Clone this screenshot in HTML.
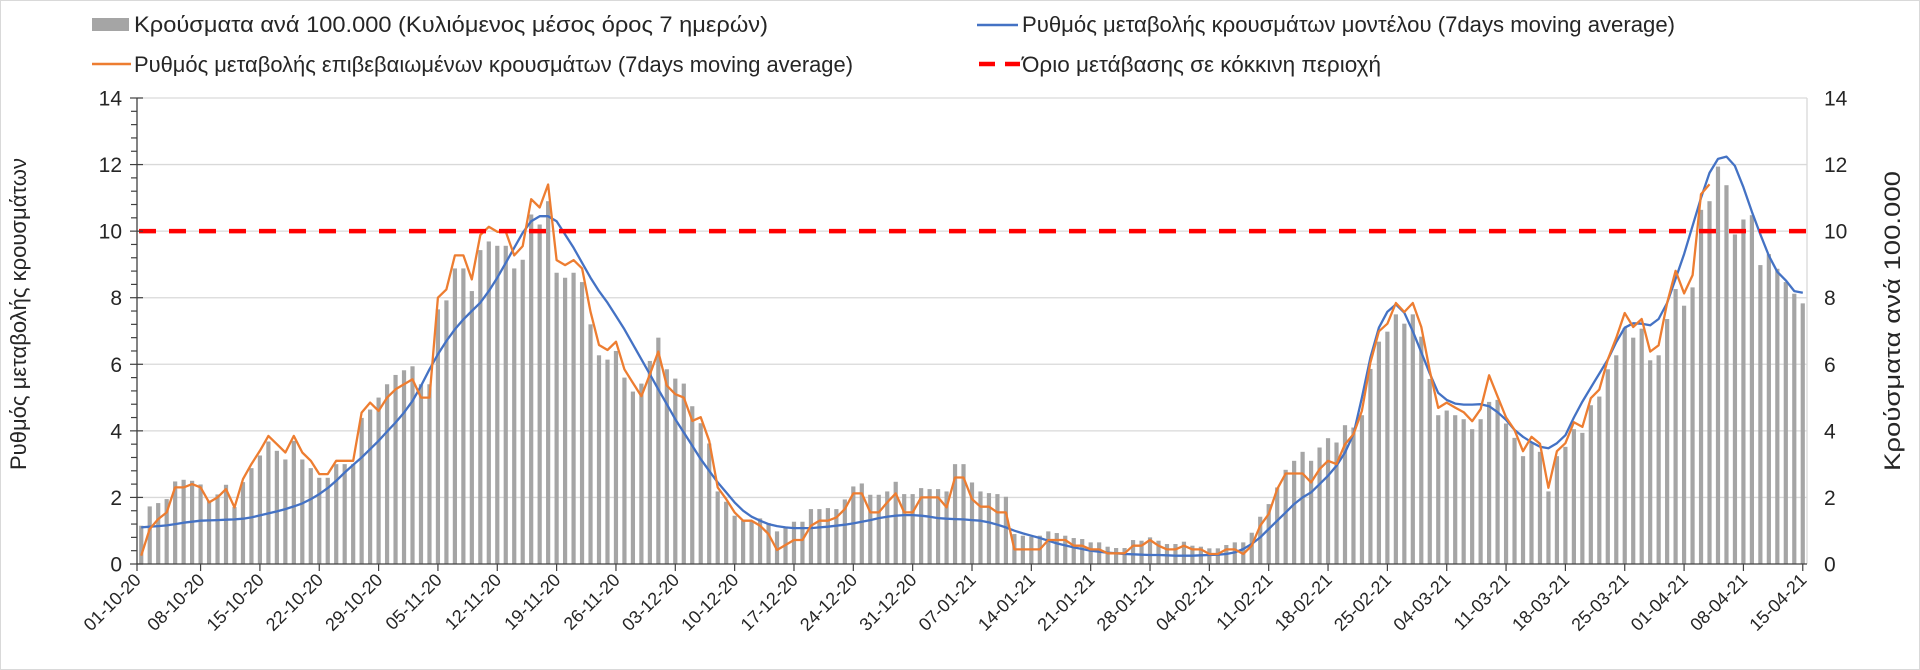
<!DOCTYPE html>
<html><head><meta charset="utf-8">
<style>
html,body{margin:0;padding:0;background:#fff;}
svg{display:block;font-family:"Liberation Sans","DejaVu Sans",sans-serif;}
</style></head>
<body>
<svg id="chart" width="1920" height="670" viewBox="0 0 1920 670" xmlns="http://www.w3.org/2000/svg">
<rect x="0.5" y="0.5" width="1919" height="669" fill="#fff" stroke="#d9d9d9"/>
<g>
 <g>
  <rect x="92" y="18" width="37" height="13" fill="#a5a5a5"/>
  <text x="134" y="32" font-size="22" fill="#262626" textLength="634" lengthAdjust="spacingAndGlyphs">Κρούσματα ανά 100.000 (Κυλιόμενος μέσος όρος 7 ημερών)</text>
 </g>
 <g>
  <line x1="92" y1="64" x2="131" y2="64" stroke="#ed7d31" stroke-width="2.5"/>
  <text x="134" y="72" font-size="22" fill="#262626" textLength="719" lengthAdjust="spacingAndGlyphs">Ρυθμός μεταβολής επιβεβαιωμένων κρουσμάτων (7days moving average)</text>
 </g>
 <g>
  <line x1="977" y1="25" x2="1018" y2="25" stroke="#4472c4" stroke-width="2.5"/>
  <text x="1022" y="32" font-size="22" fill="#262626" textLength="653" lengthAdjust="spacingAndGlyphs">Ρυθμός μεταβολής κρουσμάτων μοντέλου (7days moving average)</text>
 </g>
 <g>
  <line x1="979" y1="64" x2="1020" y2="64" stroke="#ff0000" stroke-width="4.5" stroke-dasharray="16,10"/>
  <text x="1022" y="72" font-size="22" fill="#262626" textLength="359" lengthAdjust="spacingAndGlyphs">Όριο μετάβασης σε κόκκινη περιοχή</text>
 </g>
</g>
<text transform="translate(26,314) rotate(-90)" text-anchor="middle" font-size="22" fill="#262626" textLength="312" lengthAdjust="spacingAndGlyphs">Ρυθμός μεταβολής κρουσμάτων</text>
<text transform="translate(1900,321) rotate(-90)" text-anchor="middle" font-size="22" fill="#262626" textLength="300" lengthAdjust="spacingAndGlyphs">Κρούσματα ανά 100.000</text>
<g id="grid"></g>
<g id="bars"></g>
<g id="lines"></g>
<g id="axes"></g>
</svg>
<script>
const dateStart = [2020, 10, 1];
const nDays = 197;
const yTicks = [0,2,4,6,8,10,12,14];
const threshold = 10;
const cases = [1.15,1.73,1.83,1.95,2.48,2.53,2.5,2.39,1.9,2.09,
2.38,1.71,2.46,2.88,3.26,3.68,3.4,3.14,3.7,3.14,
2.88,2.59,2.59,3.0,3.0,3.0,4.39,4.64,5.0,5.4,
5.68,5.82,5.94,5.4,5.4,7.65,7.92,8.88,8.88,8.2,
9.43,9.69,9.56,9.56,8.88,9.14,10.5,10.2,10.9,8.75,
8.6,8.75,8.47,7.2,6.27,6.14,6.4,5.6,5.18,5.42,
6.1,6.8,5.85,5.57,5.42,4.74,4.23,3.62,2.18,1.87,
1.45,1.3,1.3,1.37,1.23,0.98,1.08,1.27,1.27,1.65,
1.65,1.68,1.65,1.94,2.33,2.42,2.08,2.08,2.18,2.47,
2.1,2.1,2.28,2.25,2.25,2.18,3.0,3.0,2.45,2.18,
2.13,2.1,2.02,0.9,0.85,0.82,0.85,0.98,0.93,0.85,
0.78,0.75,0.65,0.65,0.52,0.48,0.48,0.72,0.7,0.8,
0.7,0.6,0.6,0.67,0.55,0.52,0.47,0.47,0.57,0.65,
0.65,0.94,1.42,1.8,2.3,2.83,3.1,3.37,3.1,3.5,
3.78,3.65,4.17,4.1,4.47,5.86,6.68,6.98,7.5,7.22,
7.5,6.83,5.56,4.47,4.61,4.47,4.35,4.05,4.35,4.87,
4.93,4.22,3.79,3.24,3.66,3.37,2.18,3.24,3.52,4.05,
3.94,4.77,5.03,5.85,6.27,7.09,6.8,7.07,6.12,6.27,
7.36,8.26,7.76,8.31,10.64,10.9,11.94,11.38,9.9,10.35,
10.48,8.98,9.31,8.87,8.47,8.12,7.83];
const confirmedRate = [0.25,1.05,1.35,1.55,2.3,2.3,2.4,2.3,1.85,2.0,
2.25,1.7,2.55,3.0,3.4,3.85,3.6,3.35,3.85,3.35,
3.1,2.7,2.7,3.1,3.1,3.1,4.55,4.85,4.6,5.0,
5.25,5.4,5.55,5.0,5.0,8.0,8.25,9.27,9.27,8.55,
9.88,10.13,9.98,9.98,9.27,9.55,10.96,10.71,11.4,9.13,
8.98,9.13,8.88,7.58,6.58,6.43,6.68,5.85,5.44,5.04,
5.7,6.38,5.36,5.1,5.0,4.3,4.41,3.7,2.3,1.95,
1.55,1.3,1.3,1.15,0.9,0.42,0.57,0.72,0.72,1.15,
1.3,1.3,1.4,1.65,2.12,2.12,1.55,1.55,1.85,2.12,
1.55,1.55,2.0,2.0,2.0,1.7,2.6,2.6,1.95,1.72,
1.72,1.55,1.55,0.44,0.44,0.44,0.44,0.72,0.72,0.72,
0.55,0.55,0.44,0.44,0.32,0.32,0.32,0.55,0.55,0.72,
0.55,0.44,0.44,0.55,0.44,0.44,0.3,0.3,0.44,0.44,
0.3,0.55,1.15,1.5,2.25,2.72,2.72,2.72,2.45,2.85,
3.1,3.0,3.6,3.9,4.6,6.05,6.99,7.22,7.84,7.57,
7.84,7.12,5.8,4.69,4.85,4.7,4.56,4.29,4.65,5.67,
5.03,4.4,4.03,3.39,3.82,3.61,2.29,3.39,3.63,4.26,
4.12,4.98,5.24,6.14,6.8,7.54,7.12,7.36,6.38,6.57,
7.84,8.81,8.13,8.68,11.11,11.41];
const modelRate = [1.1,1.12,1.14,1.16,1.2,1.24,1.27,1.3,1.31,1.32,
1.33,1.34,1.36,1.4,1.46,1.52,1.58,1.65,1.73,1.82,
1.95,2.1,2.28,2.5,2.75,2.98,3.2,3.45,3.7,3.98,
4.25,4.55,4.9,5.35,5.85,6.3,6.7,7.05,7.35,7.6,
7.85,8.2,8.6,9.05,9.5,9.95,10.3,10.45,10.45,10.3,
9.9,9.5,9.05,8.6,8.2,7.85,7.45,7.05,6.6,6.15,
5.7,5.25,4.8,4.35,3.95,3.55,3.15,2.8,2.45,2.15,
1.85,1.6,1.42,1.3,1.2,1.14,1.1,1.08,1.08,1.08,
1.1,1.12,1.15,1.18,1.22,1.27,1.32,1.38,1.42,1.45,
1.47,1.47,1.45,1.42,1.38,1.36,1.35,1.34,1.32,1.3,
1.25,1.18,1.1,1.0,0.92,0.85,0.78,0.7,0.62,0.56,
0.5,0.45,0.4,0.37,0.34,0.32,0.3,0.29,0.28,0.27,
0.27,0.26,0.25,0.25,0.25,0.26,0.27,0.28,0.3,0.35,
0.45,0.6,0.8,1.05,1.3,1.55,1.8,2.0,2.15,2.4,
2.65,2.95,3.35,3.9,5.0,6.2,7.1,7.58,7.8,7.55,
6.99,6.36,5.72,5.14,4.93,4.82,4.79,4.79,4.8,4.74,
4.56,4.33,4.03,3.82,3.66,3.52,3.48,3.63,3.87,4.4,
4.88,5.3,5.72,6.14,6.67,7.1,7.23,7.22,7.17,7.36,
7.84,8.57,9.31,10.16,11.0,11.75,12.17,12.24,11.96,11.32,
10.58,9.9,9.26,8.78,8.52,8.2,8.15];

const NS = "http://www.w3.org/2000/svg";
const X0 = 137, X1 = 1807, Y0 = 564, YTOP = 98, YMAX = 14;
const dw = (X1 - X0) / nDays;
function xDay(d){ return X0 + dw * (d + 0.5); }
function yVal(v){ return Y0 - (Y0 - YTOP) * v / YMAX; }
function mk(tag, attrs, parent){
  const e = document.createElementNS(NS, tag);
  for (const k in attrs) e.setAttribute(k, attrs[k]);
  parent.appendChild(e);
  return e;
}
function pad(n){ return (n < 10 ? "0" : "") + n; }
function dateLabel(d){
  const dt = new Date(dateStart[0], dateStart[1]-1, dateStart[2] + d);
  return pad(dt.getDate()) + "-" + pad(dt.getMonth()+1) + "-" + String(dt.getFullYear()).slice(2);
}
const grid = document.getElementById("grid");
const bars = document.getElementById("bars");
const lines = document.getElementById("lines");
const axes = document.getElementById("axes");

yTicks.forEach(t => {
  if (t === 0) return;
  const g = mk("line", {x1: X0, x2: X1, y1: yVal(t), y2: yVal(t), stroke: "#d9d9d9", "stroke-width": 1.3}, grid);
  
  
});

cases.forEach((v, d) => {
  const r = mk("rect", {x: xDay(d) - 2.1, y: yVal(v), width: 4.2, height: Y0 - yVal(v), fill: "#a5a5a5"}, bars);
  
  
});

function pathFor(arr){
  return arr.map((v, d) => (d ? "L" : "M") + xDay(d).toFixed(1) + "," + yVal(v).toFixed(1)).join(" ");
}
const blue = mk("path", {d: pathFor(modelRate), fill: "none", stroke: "#4472c4", "stroke-width": 2.3, "stroke-linejoin": "round"}, lines);


const orange = mk("path", {d: pathFor(confirmedRate), fill: "none", stroke: "#ed7d31", "stroke-width": 2.3, "stroke-linejoin": "round"}, lines);


const red = mk("line", {x1: X0 + 2, x2: X1, y1: yVal(threshold), y2: yVal(threshold), stroke: "#ff0000", "stroke-width": 4.5, "stroke-dasharray": "17,13"}, lines);



const la = mk("line", {x1: X0, x2: X0, y1: YTOP, y2: Y0, stroke: "#404040", "stroke-width": 1.3}, axes);


for (let i = 0; i <= 35; i++) {
  const v = i * 0.4;
  const major = Math.abs(v - Math.round(v/2)*2) < 1e-6;
  const tk = mk("line", {x1: major ? X0 - 7 : X0 - 6, x2: major ? X0 + 6 : X0, y1: yVal(v), y2: yVal(v), stroke: "#404040", "stroke-width": 1.2}, axes);
  
  
}
const ra = mk("line", {x1: X1, x2: X1, y1: YTOP, y2: Y0, stroke: "#d9d9d9", "stroke-width": 1.3}, axes);


yTicks.forEach(t => {
  const l = mk("text", {x: 122, y: yVal(t) + 7.5, "text-anchor": "end", "font-size": 21, fill: "#262626"}, axes);
  l.textContent = t;
  
  
  const r = mk("text", {x: 1824, y: yVal(t) + 7.5, "text-anchor": "start", "font-size": 21, fill: "#262626"}, axes);
  r.textContent = t;
  
  
});
const xa = mk("line", {x1: X0, x2: X1, y1: Y0, y2: Y0, stroke: "#404040", "stroke-width": 1.3}, axes);


for (let d = 0; d < nDays; d += 7) {
  const tx = (d === 0) ? X0 : xDay(d);
  const tk = mk("line", {x1: tx, x2: tx, y1: Y0, y2: Y0 + 7, stroke: "#404040", "stroke-width": 1.2}, axes);
  
  
  const lb = mk("text", {x: tx + 5, y: Y0 + 17, "text-anchor": "end", "font-size": 18, fill: "#262626", transform: "rotate(-45 " + (tx + 5) + " " + (Y0 + 17) + ")"}, axes);
  lb.textContent = dateLabel(d);
  
  
}
</script>
</body></html>
